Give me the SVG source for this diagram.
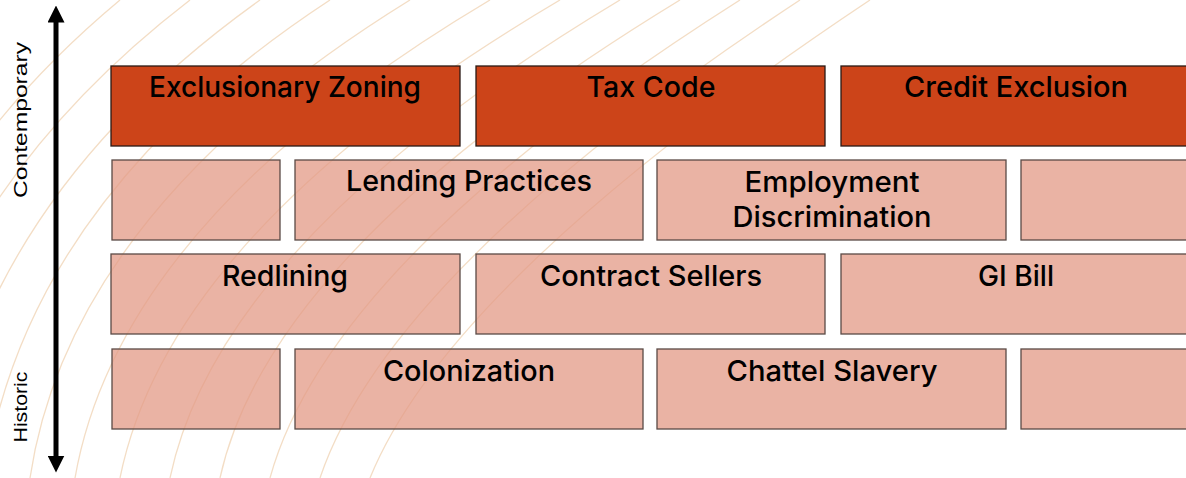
<svg xmlns="http://www.w3.org/2000/svg" width="1186" height="478" viewBox="0 0 1186 478">
<style>
.bg{fill:none;stroke:#F2D9BF;stroke-width:1.3;opacity:0.9}
.dark{fill:#CC4419;stroke:#2a1a14;stroke-width:1.3}
.light{fill:#E39A86;fill-opacity:0.75;stroke:#5a4a46;stroke-width:1.3}
.t{font-family:Inter,"Noto Sans",sans-serif;font-size:29px;font-weight:500;fill:#000;text-anchor:middle}
.ax{font-family:"Liberation Sans",Arial,sans-serif;font-size:19px;fill:#000;text-anchor:middle}
</style>
<defs>
<marker id="ah" viewBox="0 0 10 10" refX="5" refY="5" markerWidth="3.4" markerHeight="3.4" orient="auto-start-reverse" markerUnits="strokeWidth">
<path d="M0,0 L10,5 L0,10 z" fill="#000"/>
</marker>
</defs>
<rect width="1186" height="478" fill="#fff"/>
<g id="background">
<path class="bg" d="M-160,478 Q-120,200 120,0"/>
<path class="bg" d="M-110,478 Q-70,200 190,0"/>
<path class="bg" d="M-60,478 Q-20,200 260,0"/>
<path class="bg" d="M-15,478 Q25,200 330,0"/>
<path class="bg" d="M30,478 Q70,210 410,0"/>
<path class="bg" d="M75,478 Q120,220 490,0"/>
<path class="bg" d="M120,478 Q170,230 560,0"/>
<path class="bg" d="M170,478 Q220,240 620,0"/>
<path class="bg" d="M220,478 Q270,250 680,0"/>
<path class="bg" d="M270,478 Q330,260 740,0"/>
<path class="bg" d="M320,478 Q390,270 800,0"/>
<path class="bg" d="M370,478 Q450,280 870,0"/>
</g>
<g id="connectors">
<line x1="56" y1="14" x2="56" y2="464" stroke="#000" stroke-width="5" marker-start="url(#ah)" marker-end="url(#ah)"/>
</g>
<g id="label-contemporary"><text class="ax" transform="translate(27,120) rotate(-90)" textLength="156" lengthAdjust="spacingAndGlyphs">Contemporary</text></g>
<g id="label-historic"><text class="ax" transform="translate(27,407) rotate(-90)" textLength="71" lengthAdjust="spacingAndGlyphs">Historic</text></g>
<g id="exclusionary-zoning"><rect class="dark" x="111" y="66" width="349" height="80"/><text class="t" x="285" y="97" textLength="272" lengthAdjust="spacingAndGlyphs">Exclusionary Zoning</text></g>
<g id="tax-code"><rect class="dark" x="476" y="66" width="349" height="80"/><text class="t" x="651" y="97" textLength="129" lengthAdjust="spacingAndGlyphs">Tax Code</text></g>
<g id="credit-exclusion"><rect class="dark" x="841" y="66" width="360" height="80"/><text class="t" x="1016" y="97" textLength="224" lengthAdjust="spacingAndGlyphs">Credit Exclusion</text></g>
<g id="row2-a"><rect class="light" x="112" y="160" width="168" height="80"/></g>
<g id="lending-practices"><rect class="light" x="295" y="160" width="348" height="80"/><text class="t" x="469" y="191" textLength="246" lengthAdjust="spacingAndGlyphs">Lending Practices</text></g>
<g id="employment-discrimination"><rect class="light" x="657" y="160" width="349" height="80"/><text class="t" x="832" y="192" textLength="175" lengthAdjust="spacingAndGlyphs">Employment</text><text class="t" x="832" y="227" textLength="199" lengthAdjust="spacingAndGlyphs">Discrimination</text></g>
<g id="row2-d"><rect class="light" x="1021" y="160" width="180" height="80"/></g>
<g id="redlining"><rect class="light" x="111" y="254" width="349" height="80"/><text class="t" x="285" y="286" textLength="126" lengthAdjust="spacingAndGlyphs">Redlining</text></g>
<g id="contract-sellers"><rect class="light" x="476" y="254" width="349" height="80"/><text class="t" x="651" y="286" textLength="222" lengthAdjust="spacingAndGlyphs">Contract Sellers</text></g>
<g id="gi-bill"><rect class="light" x="841" y="254" width="360" height="80"/><text class="t" x="1016" y="286" textLength="76" lengthAdjust="spacingAndGlyphs">GI Bill</text></g>
<g id="row4-a"><rect class="light" x="112" y="349" width="168" height="80"/></g>
<g id="colonization"><rect class="light" x="295" y="349" width="348" height="80"/><text class="t" x="469" y="381" textLength="172" lengthAdjust="spacingAndGlyphs">Colonization</text></g>
<g id="chattel-slavery"><rect class="light" x="657" y="349" width="349" height="80"/><text class="t" x="832" y="381" textLength="211" lengthAdjust="spacingAndGlyphs">Chattel Slavery</text></g>
<g id="row4-d"><rect class="light" x="1021" y="349" width="180" height="80"/></g>
</svg>
